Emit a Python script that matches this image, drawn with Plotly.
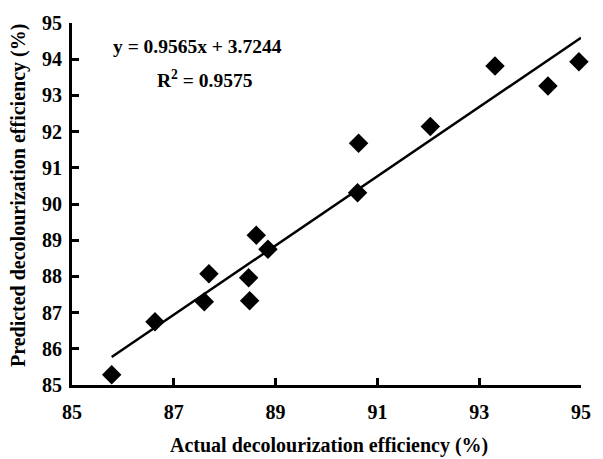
import plotly.graph_objects as go

# Actual vs predicted decolourization efficiency (%)
actual = [85.78, 86.63, 87.60, 87.69, 88.47, 88.49, 88.62, 88.85,
          90.61, 90.63, 92.04, 93.31, 94.35, 94.96]
predicted = [85.28, 86.75, 87.30, 88.07, 87.96, 87.33, 89.14, 88.75,
             90.31, 91.68, 92.14, 93.81, 93.26, 93.93]

# Linear regression reported on the chart
slope = 0.9565
intercept = 3.7244
r_squared = 0.9575
fit_x = [min(actual), 95.0]
fit_y = [slope * v + intercept for v in fit_x]

tick_vals_x = [85, 87, 89, 91, 93, 95]
tick_vals_y = [85, 86, 87, 88, 89, 90, 91, 92, 93, 94, 95]

font_family = "Liberation Serif"

fig = go.Figure()
fig.add_trace(go.Scatter(
    x=fit_x, y=fit_y, mode="lines",
    line=dict(color="black", width=2.5),
    showlegend=False, hoverinfo="skip",
))
fig.add_trace(go.Scatter(
    x=actual, y=predicted, mode="markers",
    marker=dict(symbol="diamond", size=15, color="black"),
    showlegend=False, cliponaxis=False,
))

axis_common = dict(
    showline=True, linecolor="black", linewidth=3,
    ticks="inside", ticklen=7, tickwidth=3, tickcolor="black",
    showgrid=False, zeroline=False, mirror=False,
    tickfont=dict(family=font_family, size=20, color="black"),
)

fig.update_xaxes(range=[85, 95], tickvals=tick_vals_x,
                 ticktext=[f"<b>{v}</b>" for v in tick_vals_x],
                 ticklabelstandoff=7, **axis_common)
fig.update_yaxes(range=[85, 95], tickvals=tick_vals_y,
                 ticktext=[f"<b>{v}</b>" for v in tick_vals_y],
                 ticklabelstandoff=3, **axis_common)

txt = dict(family=font_family, size=19.5, color="black")
title_txt = dict(family=font_family, size=20, color="black")
fig.update_layout(
    width=603, height=459,
    margin=dict(l=72, r=12, t=23, b=74),
    plot_bgcolor="white", paper_bgcolor="white",
    annotations=[
        dict(text=f"<b>y = {slope}x + {intercept}</b>", x=0.246, y=0.934,
             xref="paper", yref="paper", showarrow=False, font=txt,
             xanchor="center", yanchor="middle"),
        dict(text=f"<b>R<sup>2</sup> = {r_squared}</b>", x=0.261, y=0.845,
             xref="paper", yref="paper", showarrow=False, font=txt,
             xanchor="center", yanchor="middle"),
        dict(text="<b>Actual decolourization efficiency (%)</b>", x=0.505, y=-0.166,
             xref="paper", yref="paper", showarrow=False, font=title_txt,
             xanchor="center", yanchor="middle"),
        dict(text="<b>Predicted decolourization efficiency (%)</b>", x=-0.106, y=0.522,
             xref="paper", yref="paper", showarrow=False, font=title_txt,
             textangle=-90, xanchor="center", yanchor="middle"),
    ],
)

fig.write_html("out.html")
